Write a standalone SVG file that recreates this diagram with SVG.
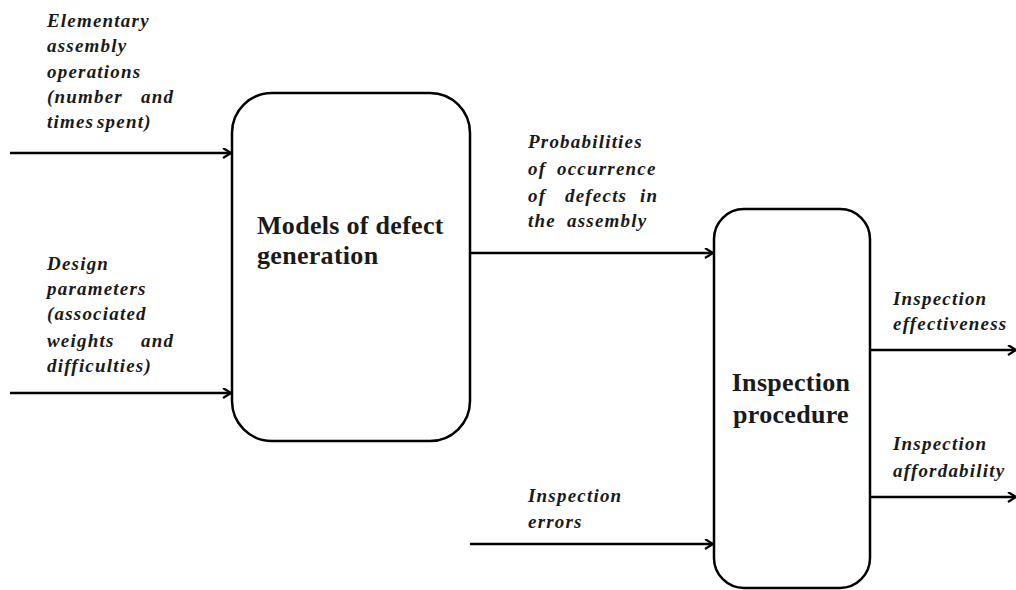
<svg xmlns="http://www.w3.org/2000/svg" width="1016" height="590" viewBox="0 0 1016 590">
<style>
.lbl{font-family:"Liberation Serif","Times New Roman",serif;font-weight:bold;font-style:italic;font-size:19px;letter-spacing:1.2px;fill:#1a1a1a}
.ttl{font-family:"Liberation Serif","Times New Roman",serif;font-weight:bold;font-size:26px;letter-spacing:0.3px;fill:#1a1a1a}
.box{fill:#fff;stroke:#000;stroke-width:2.5}
.con{stroke:#000;stroke-width:2.5;fill:none;marker-end:url(#ah)}
</style>
<defs>
<marker id="ah" markerWidth="12" markerHeight="12" refX="9" refY="5" orient="auto" markerUnits="userSpaceOnUse">
<path d="M1,0 L9,5 L1,10" fill="none" stroke="#000" stroke-width="2.2"/>
</marker>
</defs>
<rect width="1016" height="590" fill="#fff"/>
<g id="connectors">
<line class="con" x1="10" y1="153" x2="231" y2="153"/>
<line class="con" x1="10" y1="393" x2="231" y2="393"/>
<line class="con" x1="470" y1="253" x2="713" y2="253"/>
<line class="con" x1="470" y1="544" x2="713" y2="544"/>
<line class="con" x1="870" y1="350" x2="1016" y2="350"/>
<line class="con" x1="870" y1="497" x2="1016" y2="497"/>
</g>
<g id="node-models">
<rect class="box" x="232" y="93" width="238" height="348" rx="40" ry="40"/>
<text class="ttl" x="257" y="234">Models of defect</text>
<text class="ttl" x="257" y="264">generation</text>
</g>
<g id="node-inspection">
<rect class="box" x="714" y="209" width="156" height="379" rx="30" ry="30"/>
<text class="ttl" x="791" y="391" text-anchor="middle">Inspection</text>
<text class="ttl" x="791" y="423" text-anchor="middle">procedure</text>
</g>
<g id="labels">
<text class="lbl" x="47" y="27">Elementary</text>
<text class="lbl" x="47" y="52">assembly</text>
<text class="lbl" x="47" y="78">operations</text>
<text class="lbl" y="103"><tspan x="47">(number</tspan><tspan x="141">and</tspan></text>
<text class="lbl" y="128"><tspan x="47">times</tspan><tspan x="97">spent)</tspan></text>
<text class="lbl" x="47" y="270">Design</text>
<text class="lbl" x="47" y="295">parameters</text>
<text class="lbl" x="47" y="320">(associated</text>
<text class="lbl" y="347"><tspan x="47">weights</tspan><tspan x="141">and</tspan></text>
<text class="lbl" x="47" y="372">difficulties)</text>
<text class="lbl" x="528" y="148">Probabilities</text>
<text class="lbl" y="175"><tspan x="528">of</tspan><tspan x="557">occurrence</tspan></text>
<text class="lbl" y="202"><tspan x="528">of</tspan><tspan x="565">defects</tspan><tspan x="640">in</tspan></text>
<text class="lbl" y="227"><tspan x="528">the</tspan><tspan x="567">assembly</tspan></text>
<text class="lbl" x="528" y="502">Inspection</text>
<text class="lbl" x="528" y="528">errors</text>
<text class="lbl" x="893" y="305">Inspection</text>
<text class="lbl" x="893" y="330">effectiveness</text>
<text class="lbl" x="893" y="450">Inspection</text>
<text class="lbl" x="893" y="477">affordability</text>
</g>
</svg>
